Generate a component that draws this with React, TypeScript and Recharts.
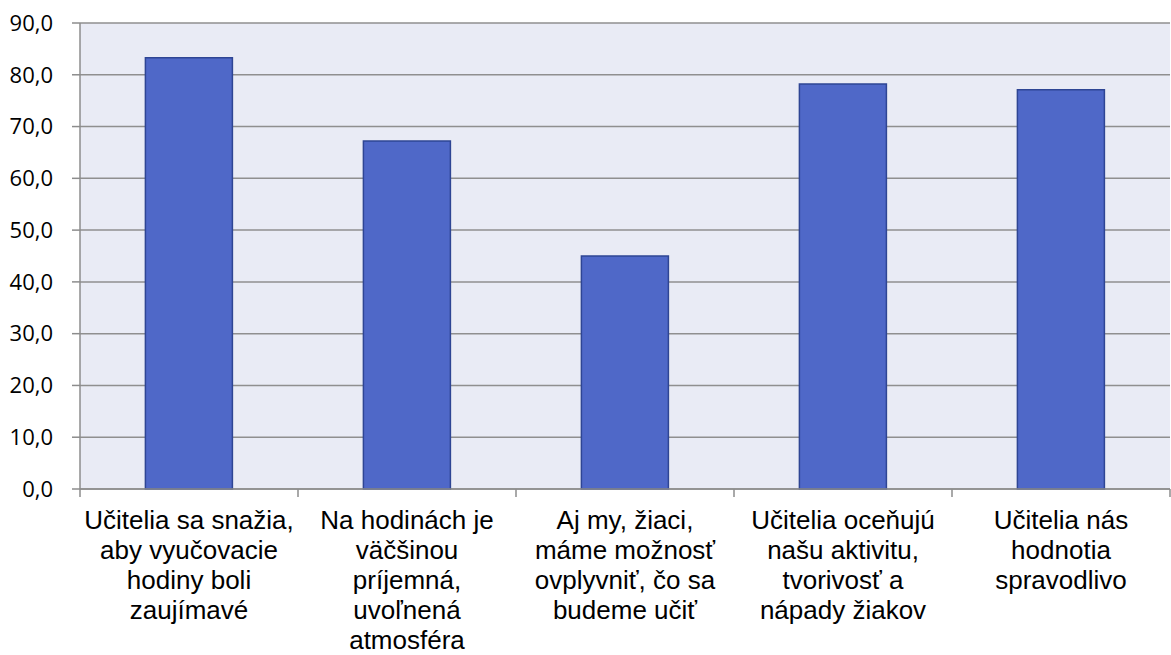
import { BarChart, Bar, XAxis, YAxis, CartesianGrid } from 'recharts';

const categories = [
  'Učitelia sa snažia,\naby vyučovacie\nhodiny boli\nzaujímavé',
  'Na hodinách je\nväčšinou\npríjemná,\nuvoľnená\natmosféra',
  'Aj my, žiaci,\nmáme možnosť\novplyvniť, čo sa\nbudeme učiť',
  'Učitelia oceňujú\nnašu aktivitu,\ntvorivosť a\nnápady žiakov',
  'Učitelia nás\nhodnotia\nspravodlivo',
];
const values = [83.3, 67.2, 45.0, 78.2, 77.1];
const yTicks = [0, 10, 20, 30, 40, 50, 60, 70, 80, 90];

const chartData = categories.map((name, i) => ({ name, value: values[i] }));

const formatNum = (v: number) => v.toFixed(1).replace('.', ',');

const CategoryTick = ({ x, y, payload, index, visibleTicksCount }: any) => {
  const half = payload && payload.offset ? payload.offset : 109;
  const lines = String(payload.value).split('\n');
  const last = index === visibleTicksCount - 1;
  return (
    <g>
      <line x1={x - half} x2={x - half} y1={y} y2={y + 8} stroke="#8c8c8c" strokeWidth={1.5} />
      {last && <line x1={x + half} x2={x + half} y1={y} y2={y + 8} stroke="#8c8c8c" strokeWidth={1.5} />}
      <text
        x={x}
        y={y + 40}
        textAnchor="middle"
        fill="#000"
        fontFamily="'Liberation Sans', Arial, sans-serif"
        fontSize={26}
      >
        {lines.map((l, i) => (
          <tspan key={i} x={x} dy={i === 0 ? 0 : 30}>
            {l}
          </tspan>
        ))}
      </text>
    </g>
  );
};

export default function App() {
  return (
    <div style={{ position: 'absolute', left: 0, top: 0, background: '#fff' }}>
      <BarChart
        width={1171}
        height={655}
        data={chartData}
        margin={{ top: 23, right: 1, left: 0, bottom: 0 }}
        barCategoryGap="30%"
      >
        <CartesianGrid
          vertical={false}
          stroke="#8f8f8f"
          strokeWidth={1.5}
          fill="#e9ebf5"
          fillOpacity={1}
        />
        <XAxis
          dataKey="name"
          height={166}
          interval={0}
          tickLine={false}
          tickSize={0}
          tickMargin={0}
          axisLine={{ stroke: '#8c8c8c', strokeWidth: 1.5 }}
          tick={<CategoryTick />}
        />
        <YAxis
          width={80}
          domain={[0, 90]}
          ticks={yTicks}
          interval={0}
          tickFormatter={formatNum}
          tickSize={8}
          tickMargin={19}
          tickLine={{ stroke: '#8c8c8c', strokeWidth: 1.5 }}
          axisLine={{ stroke: '#8c8c8c', strokeWidth: 1.5 }}
          tick={{ fill: '#000', fontSize: 22, fontFamily: "'Open Sans', sans-serif" }}
        />
        <Bar
          dataKey="value"
          fill="#4f68c8"
          stroke="#2e4594"
          strokeWidth={1.5}
          isAnimationActive={false}
        />
      </BarChart>
    </div>
  );
}
